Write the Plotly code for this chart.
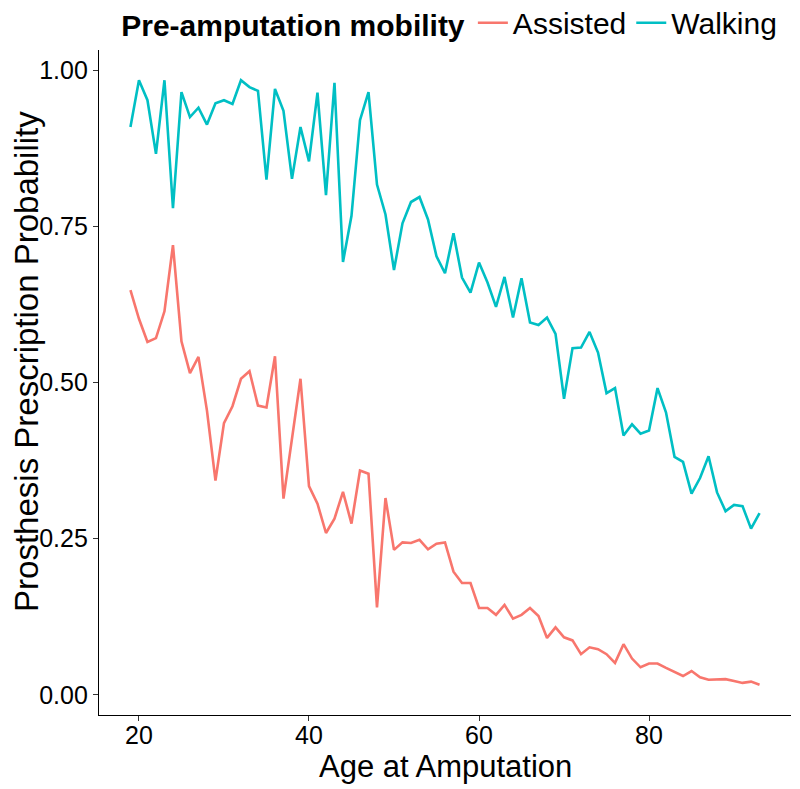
import plotly.graph_objects as go

ages = list(range(19, 94))

assisted = [0.648, 0.602, 0.565, 0.571, 0.614, 0.720, 0.566, 0.515, 0.541, 0.455,
            0.343, 0.435, 0.462, 0.506, 0.518, 0.463, 0.460, 0.542, 0.314, 0.410,
            0.506, 0.334, 0.306, 0.259, 0.282, 0.325, 0.274, 0.359, 0.354, 0.140,
            0.315, 0.232, 0.244, 0.243, 0.248, 0.233, 0.242, 0.244, 0.197, 0.179,
            0.179, 0.139, 0.139, 0.128, 0.144, 0.122, 0.128, 0.139, 0.126, 0.091,
            0.108, 0.092, 0.087, 0.065, 0.076, 0.073, 0.065, 0.051, 0.081, 0.058,
            0.044, 0.050, 0.050, 0.043, 0.036, 0.030, 0.038, 0.028, 0.024, 0.025,
            0.025, 0.022, 0.019, 0.021, 0.016]

walking = [0.909, 0.984, 0.952, 0.866, 0.984, 0.779, 0.965, 0.925, 0.940, 0.913,
           0.947, 0.952, 0.946, 0.984, 0.973, 0.967, 0.825, 0.970, 0.935, 0.826,
           0.909, 0.854, 0.964, 0.800, 0.980, 0.693, 0.767, 0.920, 0.965, 0.817,
           0.769, 0.680, 0.755, 0.789, 0.797, 0.761, 0.702, 0.675, 0.739, 0.668,
           0.644, 0.692, 0.660, 0.621, 0.669, 0.604, 0.667, 0.596, 0.592, 0.604,
           0.578, 0.474, 0.555, 0.556, 0.581, 0.548, 0.483, 0.491, 0.415, 0.433,
           0.418, 0.423, 0.491, 0.452, 0.381, 0.373, 0.322, 0.347, 0.382, 0.324,
           0.294, 0.304, 0.302, 0.266, 0.291]

series_names = ["Assisted", "Walking"]
series_colors = ["#F8766D", "#00BFC4"]
x_ticks = [20, 40, 60, 80]
y_ticks = [0.0, 0.25, 0.5, 0.75, 1.0]
y_ticklabels = ["0.00", "0.25", "0.50", "0.75", "1.00"]
x_title = "Age at Amputation"
y_title = "Prosthesis Prescription Probability"
legend_title = "Pre-amputation mobility"

fig = go.Figure()
for name, vals, col in zip(series_names, [assisted, walking], series_colors):
    fig.add_trace(go.Scatter(x=ages, y=vals, mode="lines", name=name,
                             line=dict(color=col, width=2.6)))

font_family = "Liberation Sans, Arial, sans-serif"
xmin, xmax = min(ages), max(ages)
xpad = (xmax - xmin) * 0.05
allv = assisted + walking
ymin, ymax = min(allv), max(allv)
ypad = (ymax - ymin) * 0.05

fig.update_layout(
    width=800, height=789,
    paper_bgcolor="white", plot_bgcolor="white",
    margin=dict(l=91, r=17, t=42, b=82, autoexpand=False),
    font=dict(family=font_family, color="black"),
    showlegend=True,
    legend=dict(
        orientation="h",
        xref="container", yref="paper",
        x=0.139, xanchor="left",
        y=1.041, yanchor="middle",
        title=dict(text="<b>" + legend_title + "</b>", font=dict(size=30, color="black"), side="left"),
        font=dict(size=30, color="black"),
        itemwidth=30,
        tracegroupgap=0,
        bgcolor="rgba(0,0,0,0)",
    ),
    xaxis=dict(
        range=[xmin - xpad, xmax + xpad],
        tickvals=x_ticks,
        ticks="outside", ticklen=5, tickcolor="#333333", tickwidth=1,
        showline=True, linecolor="black", linewidth=1.2,
        showgrid=False, zeroline=False, automargin=False,
        tickfont=dict(size=25, color="black"),
        ticklabelstandoff=-7,
    ),
    yaxis=dict(
        range=[ymin - ypad, ymax + ypad],
        tickvals=y_ticks, ticktext=y_ticklabels,
        ticks="outside", ticklen=5, tickcolor="#333333", tickwidth=1,
        showline=True, linecolor="black", linewidth=1.2,
        showgrid=False, zeroline=False, automargin=False,
        tickfont=dict(size=25, color="black"),
    ),
    annotations=[
        dict(text=x_title, xref="paper", yref="paper", x=0.5, y=-0.077,
             xanchor="center", yanchor="middle", showarrow=False,
             font=dict(size=31, color="black")),
        dict(text=y_title, xref="paper", yref="paper", x=-0.104, y=0.531,
             xanchor="center", yanchor="middle", showarrow=False, textangle=-90,
             font=dict(size=33, color="black")),
    ],
)

fig.write_html("out.html")
